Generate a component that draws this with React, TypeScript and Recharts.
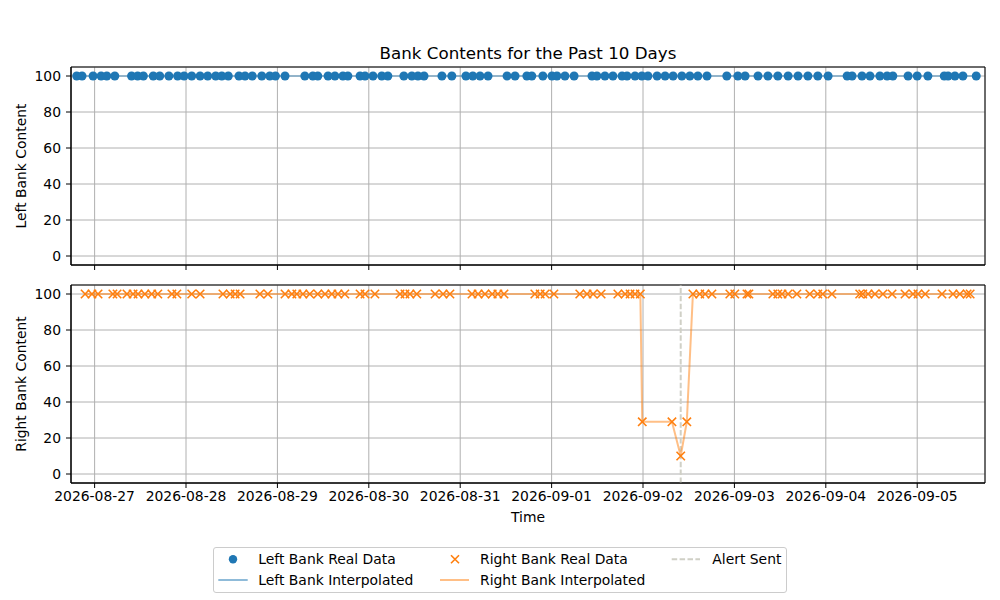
import { ComposedChart, Line, XAxis, YAxis, CartesianGrid, ReferenceLine, ReferenceArea } from "recharts"

// hours since 2026-08-27 00:00
const leftHours = [
  -4.7, -3.3, -0.4, 1.7, 3.2, 5.3, 9.7, 11.3, 12.8, 15.4, 17.1, 19.5, 21.8, 23.5, 25.5, 27.7, 29.7, 31.8, 33.4, 35.1,
  37.9, 39.5, 41.4, 43.9, 46.0, 47.5, 50.0, 55.2, 57.3, 58.6, 61.3, 63.1, 65.2, 66.5, 69.7, 71.0, 73.1, 75.4, 77.0, 81.2,
  83.3, 84.9, 86.5, 91.2, 93.8, 97.5, 99.3, 101.2, 103.3, 108.3, 110.4, 113.5, 114.8, 117.7, 120.1, 121.4, 123.5, 125.9, 130.6, 131.9,
  134.0, 136.1, 138.5, 139.8, 141.9, 143.7, 145.3, 147.7, 149.8, 151.9, 154.2, 156.3, 158.4, 160.8, 166.0, 168.9, 170.8, 174.2, 176.8, 179.4,
  182.1, 184.7, 187.3, 189.9, 192.6, 197.6, 198.9, 201.5, 203.6, 206.2, 208.1, 209.6, 213.6, 216.0, 218.8, 223.1, 224.1, 225.9, 228.0, 231.5,
]
const leftValues = [
  100, 100, 100, 100, 100, 100, 100, 100, 100, 100, 100, 100, 100, 100, 100, 100, 100, 100, 100, 100,
  100, 100, 100, 100, 100, 100, 100, 100, 100, 100, 100, 100, 100, 100, 100, 100, 100, 100, 100, 100,
  100, 100, 100, 100, 100, 100, 100, 100, 100, 100, 100, 100, 100, 100, 100, 100, 100, 100, 100, 100,
  100, 100, 100, 100, 100, 100, 100, 100, 100, 100, 100, 100, 100, 100, 100, 100, 100, 100, 100, 100,
  100, 100, 100, 100, 100, 100, 100, 100, 100, 100, 100, 100, 100, 100, 100, 100, 100, 100, 100, 100,
]

const rightHours = [
  -2.5, -0.7, 0.9, 4.8, 5.9, 8.5, 10.1, 11.4, 13.2, 15.0, 16.6, 20.3, 21.6, 25.5, 27.7, 33.7, 35.6, 36.9, 38.2, 43.4,
  45.5, 50.0, 51.8, 53.1, 54.7, 56.5, 58.6, 60.5, 62.3, 63.9, 65.7, 69.7, 71.0, 73.6, 80.2, 81.5, 82.8, 84.6, 89.4, 91.5,
  93.3, 99.1, 100.7, 102.5, 104.4, 105.9, 107.5, 115.6, 117.0, 118.3, 120.6, 127.4, 129.3, 130.9, 133.0, 137.4, 139.3, 140.6, 141.9, 143.3,
  143.8, 151.6, 153.9, 155.5, 157.1, 158.9, 160.3, 162.1, 166.8, 168.1, 171.3, 171.8, 178.1, 179.4, 180.5, 182.1, 184.4, 187.8, 189.9, 191.2,
  193.6, 200.9, 201.7, 203.1, 204.9, 207.0, 209.4, 212.8, 214.9, 216.2, 218.1, 222.5, 225.4, 227.2, 229.1, 229.9,
]
const rightValues = [
  100, 100, 100, 100, 100, 100, 100, 100, 100, 100, 100, 100, 100, 100, 100, 100, 100, 100, 100, 100,
  100, 100, 100, 100, 100, 100, 100, 100, 100, 100, 100, 100, 100, 100, 100, 100, 100, 100, 100, 100,
  100, 100, 100, 100, 100, 100, 100, 100, 100, 100, 100, 100, 100, 100, 100, 100, 100, 100, 100, 100,
  29, 29, 10, 29, 100, 100, 100, 100, 100, 100, 100, 100, 100, 100, 100, 100, 100, 100, 100, 100,
  100, 100, 100, 100, 100, 100, 100, 100, 100, 100, 100, 100, 100, 100, 100, 100,
]

const alertHours = [153.9]

const tickHours = [0, 24, 48, 72, 96, 120, 144, 168, 192, 216]
const tickLabels = [
  "2026-08-27", "2026-08-28", "2026-08-29", "2026-08-30", "2026-08-31",
  "2026-09-01", "2026-09-02", "2026-09-03", "2026-09-04", "2026-09-05",
]
const yTicks = [0, 20, 40, 60, 80, 100]

const X_DOMAIN: [number, number] = [-6.2, 233.8]
const Y_DOMAIN: [number, number] = [-5, 105]

const FONT = "DejaVu Sans"
const BLUE = "#1f77b4"
const ORANGE = "#ff7f0e"
const ALERT = "#d0d0c6"

const leftRows = leftHours.map((h, i) => ({ hour: h, value: leftValues[i] }))
const rightRows = rightHours.map((h, i) => ({ hour: h, value: rightValues[i] }))

const tickStyle = { fontSize: 13.9, fill: "#000", fontFamily: FONT }

const circleDot = (p: any) => (
  <circle key={`c-${p.index}`} cx={p.cx} cy={p.cy} r={4.5} fill={BLUE} />
)

const crossDot = (p: any) => (
  <path
    key={`x-${p.index}`}
    d={`M${p.cx - 4.2},${p.cy - 4.2}L${p.cx + 4.2},${p.cy + 4.2}M${p.cx - 4.2},${p.cy + 4.2}L${p.cx + 4.2},${p.cy - 4.2}`}
    stroke={ORANGE}
    strokeWidth={1.6}
    fill="none"
  />
)

const yLabel = (text: string) => (p: any) => {
  const vb = p.viewBox
  const x = vb.x + 26
  const y = vb.y + vb.height / 2
  return (
    <text x={x} y={y} transform={`rotate(-90 ${x} ${y})`} textAnchor="middle" fontSize={13.9} fontFamily={FONT} fill="#000">
      {text}
    </text>
  )
}

const timeLabel = (p: any) => {
  const vb = p.viewBox
  return (
    <text x={vb.x + vb.width / 2} y={vb.y + 39} textAnchor="middle" fontSize={13.9} fontFamily={FONT} fill="#000">
      Time
    </text>
  )
}

function Legend() {
  return (
    <div
      style={{
        position: "absolute", left: 213, top: 547, width: 574, height: 46,
        border: "1px solid #cccccc", borderRadius: 3, boxSizing: "border-box",
        background: "rgba(255,255,255,0.8)",
      }}
    >
      <svg width={574} height={46} style={{ position: "absolute", left: -1, top: -1 }}>
        <g fontFamily={FONT} fontSize={13.9} fill="#000">
          <circle cx={20} cy={12.3} r={4.2} fill={BLUE} />
          <text x={45.3} y={17}>Left Bank Real Data</text>
          <line x1={5.3} x2={34.7} y1={33} y2={33} stroke={BLUE} strokeOpacity={0.5} strokeWidth={2} />
          <text x={45.3} y={38}>Left Bank Interpolated</text>

          <path d="M238,8.3L246,16.3M238,16.3L246,8.3" stroke={ORANGE} strokeWidth={1.6} />
          <text x={267} y={17}>Right Bank Real Data</text>
          <line x1={227} x2={256} y1={33} y2={33} stroke={ORANGE} strokeOpacity={0.5} strokeWidth={2} />
          <text x={267} y={38}>Right Bank Interpolated</text>

          <line x1={458.7} x2={487} y1={12.3} y2={12.3} stroke={ALERT} strokeWidth={2} strokeDasharray="5.5 2.4" />
          <text x={499.3} y={17}>Alert Sent</text>
        </g>
      </svg>
    </div>
  )
}

export default function App() {

  return (

    <div style={{ position: "absolute", left: 0, top: 0, width: 1000, height: 600, background: "#fff", fontFamily: FONT }}>

      <svg width={1000} height={70} style={{ position: "absolute", left: 0, top: 0 }}>
        <text x={528} y={59} textAnchor="middle" fontSize={16.7} fontFamily={FONT} fill="#000">
          Bank Contents for the Past 10 Days
        </text>
      </svg>

      <div style={{ position: "absolute", left: 0, top: 0 }}>
        <ComposedChart width={1000} height={280} margin={{ top: 67, right: 15, bottom: 0, left: 0 }}>
          <CartesianGrid stroke="#b0b0b0" strokeWidth={1} />
          <XAxis
            dataKey="hour" type="number" domain={X_DOMAIN} ticks={tickHours} allowDataOverflow
            height={15} tickSize={5} tickFormatter={() => ""} stroke="#000"
          />
          <YAxis
            type="number" domain={Y_DOMAIN} ticks={yTicks} allowDataOverflow
            width={71} tickSize={5} tickMargin={5} tick={tickStyle} stroke="#000"
            label={yLabel("Left Bank Content")}
          />
          <Line data={leftRows} dataKey="value" stroke="none" dot={circleDot} isAnimationActive={false} />
          <Line data={leftRows} dataKey="value" stroke={BLUE} strokeOpacity={0.5} strokeWidth={1.5} dot={false} isAnimationActive={false} />
          <ReferenceArea x1={X_DOMAIN[0]} x2={X_DOMAIN[1]} y1={Y_DOMAIN[0]} y2={Y_DOMAIN[1]} fill="none" stroke="#000" strokeWidth={1} />
        </ComposedChart>
      </div>

      <div style={{ position: "absolute", left: 0, top: 270 }}>
        <ComposedChart width={1000} height={270} margin={{ top: 15, right: 15, bottom: 0, left: 0 }}>
          <CartesianGrid stroke="#b0b0b0" strokeWidth={1} />
          <XAxis
            dataKey="hour" type="number" domain={X_DOMAIN} ticks={tickHours} allowDataOverflow
            height={57} tickSize={5} tickMargin={3} tick={tickStyle} stroke="#000"
            tickFormatter={(v: number) => tickLabels[tickHours.indexOf(v)]}
            label={timeLabel}
          />
          <YAxis
            type="number" domain={Y_DOMAIN} ticks={yTicks} allowDataOverflow
            width={71} tickSize={5} tickMargin={5} tick={tickStyle} stroke="#000"
            label={yLabel("Right Bank Content")}
          />
          {alertHours.map((h) => (
            <ReferenceLine key={h} x={h} stroke={ALERT} strokeWidth={2} strokeDasharray="5.5 2.4" />
          ))}
          <Line data={rightRows} dataKey="value" stroke="none" dot={crossDot} isAnimationActive={false} />
          <Line data={rightRows} dataKey="value" stroke={ORANGE} strokeOpacity={0.5} strokeWidth={2} dot={false} isAnimationActive={false} />
          <ReferenceArea x1={X_DOMAIN[0]} x2={X_DOMAIN[1]} y1={Y_DOMAIN[0]} y2={Y_DOMAIN[1]} fill="none" stroke="#000" strokeWidth={1} />
        </ComposedChart>
      </div>

      <Legend />

    </div>

  )
}
